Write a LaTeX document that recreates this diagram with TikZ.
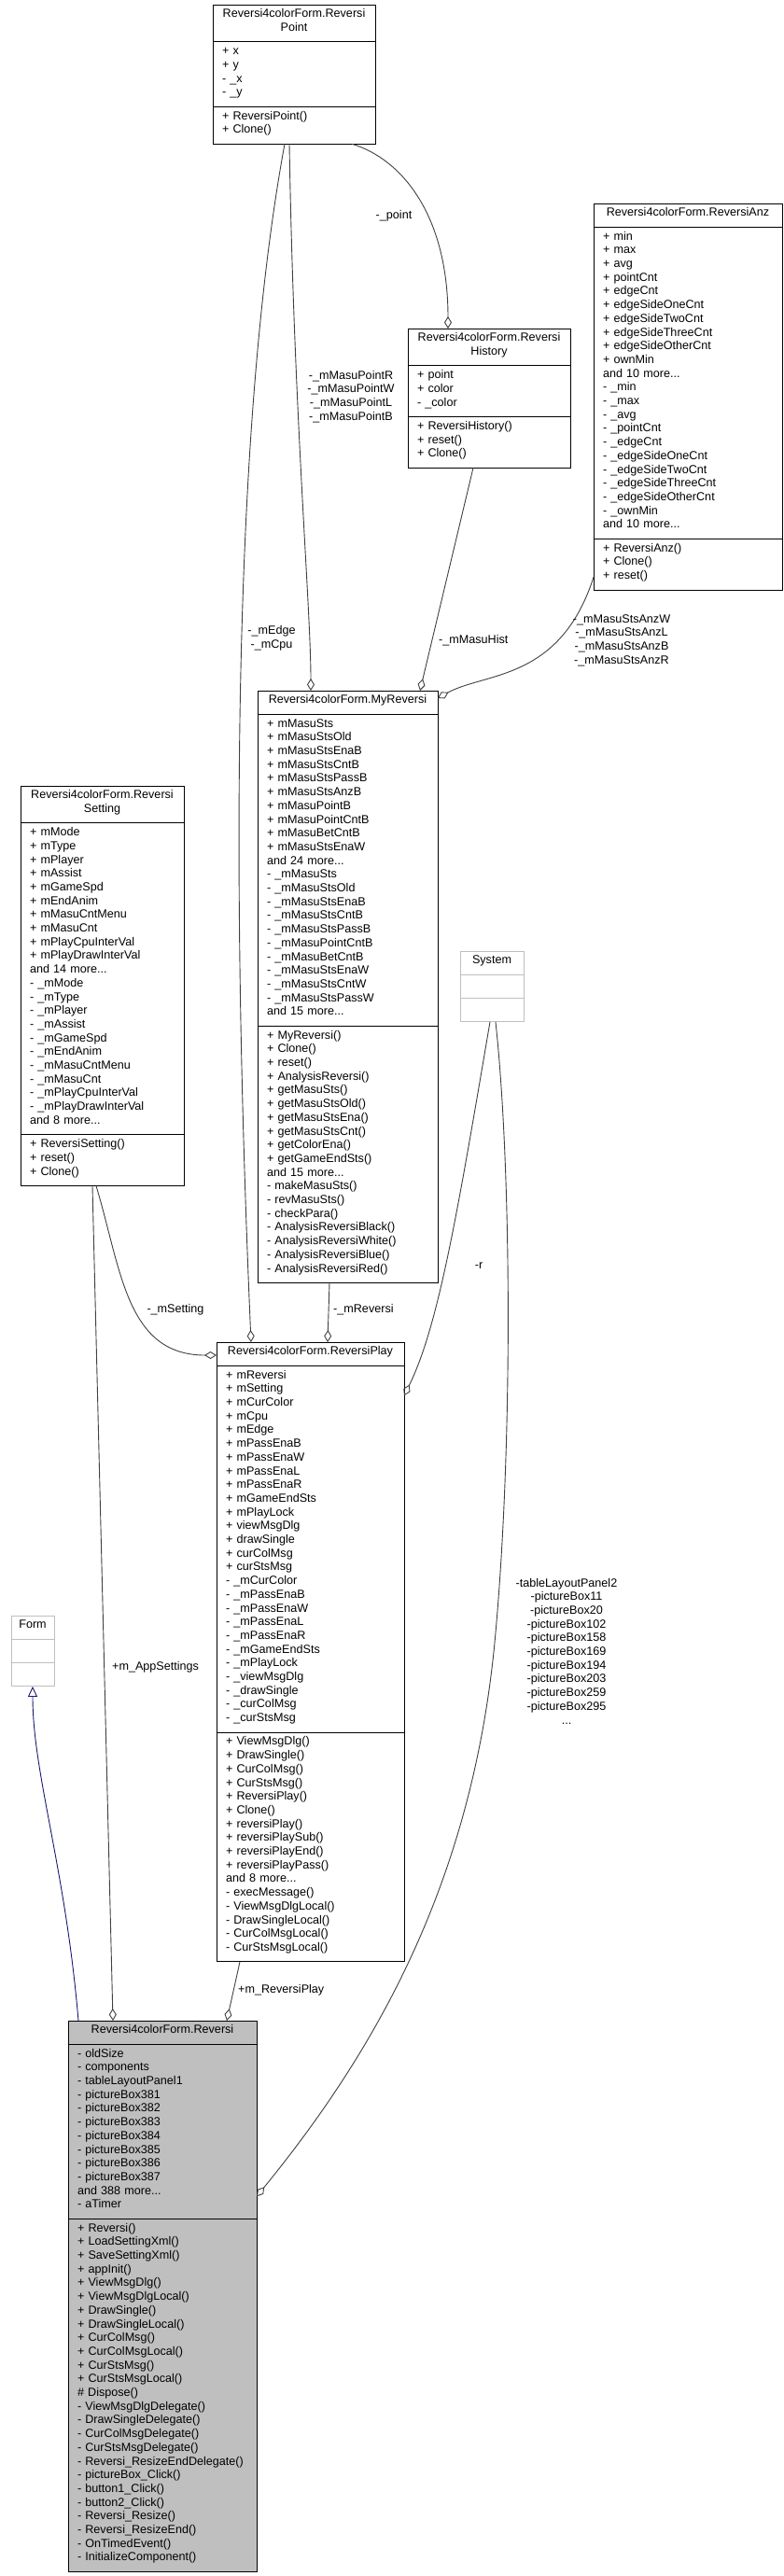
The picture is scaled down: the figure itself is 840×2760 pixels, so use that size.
\documentclass[tikz,border=0pt]{standalone}
\usepackage{fontspec}
\setmainfont{Liberation Sans}
\usepackage{xcolor}
\usetikzlibrary{positioning, arrows.meta}
\definecolor{edgegray}{HTML}{404040}
\definecolor{lightframe}{HTML}{BFBFBF}
\definecolor{inhblue}{HTML}{191970}
\definecolor{mainfill}{HTML}{BFBFBF}
\newcommand{\umlfont}{\fontsize{12.6}{14.7}\selectfont}
\tikzset{
  classhead/.style={
    rectangle,
    draw=black,
    line width=1pt,
    minimum width=#1,
    align=center,
    font=\umlfont,
    inner xsep=0pt,
    inner ysep=4.5pt,
    outer sep=0pt,
    execute at begin node={\rule{0pt}{9.3pt}},
    execute at end node={\rule[-7pt]{0pt}{7pt}}
  },
  classbody/.style={
    rectangle,
    draw=black,
    line width=1pt,
    text width=#1,
    align=left,
    font=\umlfont,
    inner xsep=10pt,
    inner ysep=4.5pt,
    outer sep=0pt,
    execute at begin node={\rule{0pt}{9.3pt}},
    execute at end node={\rule[-7pt]{0pt}{7pt}}
  },
  aggr/.style={
    draw=edgegray,
    line width=0.9pt,
    -{Diamond[open, length=13pt, width=8pt]}
  },
  inherit/.style={
    draw=inhblue,
    line width=0.9pt,
    -{Triangle[open, length=11pt, width=10pt]}
  },
  edgelabel/.style={
    font=\umlfont,
    align=center,
    inner sep=0pt
  }
}

\begin{document}
\begin{tikzpicture}[x=1pt, y=-1pt]
  \useasboundingbox (0,0) rectangle (840,2760);

  \node[classhead=174pt, anchor=north west] (point) at (228,5) {Reversi4colorForm.Reversi\\Point};
  \node[classbody=154pt, below=0pt of point] (pointA) {+ x\\+ y\\- \_x\\- \_y};
  \node[classbody=154pt, below=0pt of pointA] (pointM) {+ ReversiPoint()\\+ Clone()};

  \node[classhead=174pt, anchor=north west] (hist) at (437,352) {Reversi4colorForm.Reversi\\History};
  \node[classbody=154pt, below=0pt of hist] (histA) {+ point\\+ color\\- \_color};
  \node[classbody=154pt, below=0pt of histA] (histM) {+ ReversiHistory()\\+ reset()\\+ Clone()};

  \node[classhead=202pt, anchor=north west] (anz) at (636,218) {Reversi4colorForm.ReversiAnz};
  \node[classbody=182pt, below=0pt of anz] (anzA) {+ min\\+ max\\+ avg\\+ pointCnt\\+ edgeCnt\\+ edgeSideOneCnt\\+ edgeSideTwoCnt\\+ edgeSideThreeCnt\\+ edgeSideOtherCnt\\+ ownMin\\and 10 more...\\- \_min\\- \_max\\- \_avg\\- \_pointCnt\\- \_edgeCnt\\- \_edgeSideOneCnt\\- \_edgeSideTwoCnt\\- \_edgeSideThreeCnt\\- \_edgeSideOtherCnt\\- \_ownMin\\and 10 more...};
  \node[classbody=182pt, below=0pt of anzA] (anzM) {+ ReversiAnz()\\+ Clone()\\+ reset()};

  \node[classhead=193pt, anchor=north west] (myrev) at (276,740) {Reversi4colorForm.MyReversi};
  \node[classbody=173pt, below=0pt of myrev] (myrevA) {+ mMasuSts\\+ mMasuStsOld\\+ mMasuStsEnaB\\+ mMasuStsCntB\\+ mMasuStsPassB\\+ mMasuStsAnzB\\+ mMasuPointB\\+ mMasuPointCntB\\+ mMasuBetCntB\\+ mMasuStsEnaW\\and 24 more...\\- \_mMasuSts\\- \_mMasuStsOld\\- \_mMasuStsEnaB\\- \_mMasuStsCntB\\- \_mMasuStsPassB\\- \_mMasuPointCntB\\- \_mMasuBetCntB\\- \_mMasuStsEnaW\\- \_mMasuStsCntW\\- \_mMasuStsPassW\\and 15 more...};
  \node[classbody=173pt, below=0pt of myrevA] (myrevM) {+ MyReversi()\\+ Clone()\\+ reset()\\+ AnalysisReversi()\\+ getMasuSts()\\+ getMasuStsOld()\\+ getMasuStsEna()\\+ getMasuStsCnt()\\+ getColorEna()\\+ getGameEndSts()\\and 15 more...\\- makeMasuSts()\\- revMasuSts()\\- checkPara()\\- AnalysisReversiBlack()\\- AnalysisReversiWhite()\\- AnalysisReversiBlue()\\- AnalysisReversiRed()};

  \node[classhead=68pt, draw=lightframe, anchor=north west] (system) at (493,1019) {System};
  \node[classbody=48pt, draw=lightframe, below=0pt of system] (systemA) {};
  \node[classbody=48pt, draw=lightframe, below=0pt of systemA] (systemM) {};

  \node[classhead=175pt, anchor=north west] (setting) at (22,842) {Reversi4colorForm.Reversi\\Setting};
  \node[classbody=155pt, below=0pt of setting] (settingA) {+ mMode\\+ mType\\+ mPlayer\\+ mAssist\\+ mGameSpd\\+ mEndAnim\\+ mMasuCntMenu\\+ mMasuCnt\\+ mPlayCpuInterVal\\+ mPlayDrawInterVal\\and 14 more...\\- \_mMode\\- \_mType\\- \_mPlayer\\- \_mAssist\\- \_mGameSpd\\- \_mEndAnim\\- \_mMasuCntMenu\\- \_mMasuCnt\\- \_mPlayCpuInterVal\\- \_mPlayDrawInterVal\\and 8 more...};
  \node[classbody=155pt, below=0pt of settingA] (settingM) {+ ReversiSetting()\\+ reset()\\+ Clone()};

  \node[classhead=201pt, anchor=north west] (play) at (232,1438) {Reversi4colorForm.ReversiPlay};
  \node[classbody=181pt, below=0pt of play] (playA) {+ mReversi\\+ mSetting\\+ mCurColor\\+ mCpu\\+ mEdge\\+ mPassEnaB\\+ mPassEnaW\\+ mPassEnaL\\+ mPassEnaR\\+ mGameEndSts\\+ mPlayLock\\+ viewMsgDlg\\+ drawSingle\\+ curColMsg\\+ curStsMsg\\- \_mCurColor\\- \_mPassEnaB\\- \_mPassEnaW\\- \_mPassEnaL\\- \_mPassEnaR\\- \_mGameEndSts\\- \_mPlayLock\\- \_viewMsgDlg\\- \_drawSingle\\- \_curColMsg\\- \_curStsMsg};
  \node[classbody=181pt, below=0pt of playA] (playM) {+ ViewMsgDlg()\\+ DrawSingle()\\+ CurColMsg()\\+ CurStsMsg()\\+ ReversiPlay()\\+ Clone()\\+ reversiPlay()\\+ reversiPlaySub()\\+ reversiPlayEnd()\\+ reversiPlayPass()\\and 8 more...\\- execMessage()\\- ViewMsgDlgLocal()\\- DrawSingleLocal()\\- CurColMsgLocal()\\- CurStsMsgLocal()};

  \node[classhead=46pt, draw=lightframe, anchor=north west] (form) at (12,1731) {Form};
  \node[classbody=26pt, draw=lightframe, below=0pt of form] (formA) {};
  \node[classbody=26pt, draw=lightframe, below=0pt of formA] (formM) {};

  \node[classhead=202pt, fill=mainfill, anchor=north west] (reversi) at (73,2165) {Reversi4colorForm.Reversi};
  \node[classbody=182pt, fill=mainfill, below=0pt of reversi] (reversiA) {- oldSize\\- components\\- tableLayoutPanel1\\- pictureBox381\\- pictureBox382\\- pictureBox383\\- pictureBox384\\- pictureBox385\\- pictureBox386\\- pictureBox387\\and 388 more...\\- aTimer};
  \node[classbody=182pt, fill=mainfill, below=0pt of reversiA] (reversiM) {+ Reversi()\\+ LoadSettingXml()\\+ SaveSettingXml()\\+ appInit()\\+ ViewMsgDlg()\\+ ViewMsgDlgLocal()\\+ DrawSingle()\\+ DrawSingleLocal()\\+ CurColMsg()\\+ CurColMsgLocal()\\+ CurStsMsg()\\+ CurStsMsgLocal()\\\# Dispose()\\- ViewMsgDlgDelegate()\\- DrawSingleDelegate()\\- CurColMsgDelegate()\\- CurStsMsgDelegate()\\- Reversi\_ResizeEndDelegate()\\- pictureBox\_Click()\\- button1\_Click()\\- button2\_Click()\\- Reversi\_Resize()\\- Reversi\_ResizeEnd()\\- OnTimedEvent()\\- InitializeComponent()};

  \draw[aggr] ([xshift=149pt]pointM.south west) .. controls (430,170) and (480,230) .. ([xshift=43pt]hist.north west);
  \draw[aggr] ([xshift=82pt]pointM.south west) .. controls (315,450) and (333,650) .. ([xshift=57pt]myrev.north west);
  \draw[aggr] ([xshift=77pt]pointM.south west) .. controls (245,480) and (250,1000) .. ([xshift=37pt]play.north west);
  \draw[aggr] ([xshift=70pt]histM.south west) -- ([xshift=174pt]myrev.north west);
  \draw[aggr] ([yshift=-41pt]anzM.north west) .. controls (600,730) and (520,720) .. ([yshift=-8pt]myrev.north east);
  \draw[aggr] ([xshift=77pt]myrevM.south west) -- ([xshift=119pt]play.north west);
  \draw[aggr] ([xshift=81pt]settingM.south west) .. controls (130,1360) and (135,1452) .. ([yshift=-14pt]play.north west);
  \draw[aggr] ([xshift=77pt]settingM.south west) -- ([xshift=48pt]reversi.north west);
  \draw[aggr] ([xshift=32pt]systemM.south west) .. controls (490,1300) and (470,1420) .. ([yshift=-32pt]playA.north east);
  \draw[aggr] ([xshift=38pt]systemM.south west) .. controls (548,1250) and (550,1550) .. (530,1760) .. controls (505,2020) and (400,2200) .. ([yshift=24pt]reversiA.south east);
  \draw[aggr] ([xshift=25pt]playM.south west) -- ([xshift=170pt]reversi.north west);
  \draw[inherit] ([xshift=11pt]reversi.north west) .. controls (70,2000) and (35,1900) .. ([xshift=23pt]formM.south west);

  \node[edgelabel] (lblpoint) at (422,231) {-\_point};
  \node[edgelabel] (lblmasupoint) at (376,425) {-\_mMasuPointR\\-\_mMasuPointW\\-\_mMasuPointL\\-\_mMasuPointB};
  \node[edgelabel] (lbledge) at (291,684) {-\_mEdge\\-\_mCpu};
  \node[edgelabel, anchor=west] (lblhist) at (470,686) {-\_mMasuHist};
  \node[edgelabel] (lblanz) at (666,686) {-\_mMasuStsAnzW\\-\_mMasuStsAnzL\\-\_mMasuStsAnzB\\-\_mMasuStsAnzR};
  \node[edgelabel, anchor=west] (lblreversi) at (357,1403) {-\_mReversi};
  \node[edgelabel] (lblsetting) at (188,1403) {-\_mSetting};
  \node[edgelabel, anchor=west] (lblapp) at (120,1786) {+m\_AppSettings};
  \node[edgelabel, anchor=west] (lblplay) at (255,2132) {+m\_ReversiPlay};
  \node[edgelabel] (lblr) at (513,1356) {-r};
  \node[edgelabel] (lbltable) at (607,1769) {-tableLayoutPanel2\\-pictureBox11\\-pictureBox20\\-pictureBox102\\-pictureBox158\\-pictureBox169\\-pictureBox194\\-pictureBox203\\-pictureBox259\\-pictureBox295\\...};
\end{tikzpicture}
\end{document}
